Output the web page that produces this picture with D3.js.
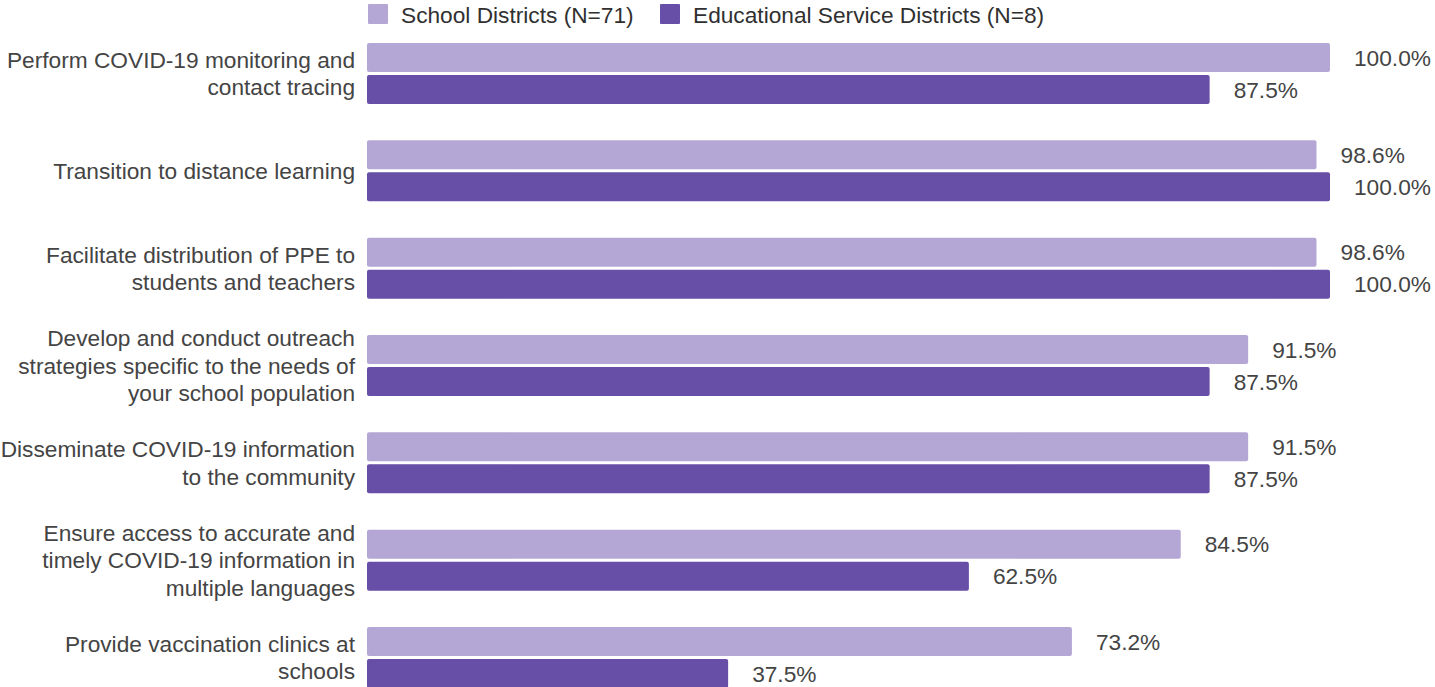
<!DOCTYPE html>
<html>
<head>
<meta charset="utf-8">
<script src="https://cdn.jsdelivr.net/npm/d3@7/dist/d3.min.js"></script>
<style>
  html, body { margin: 0; padding: 0; background: #fff; }
  svg { display: block; font-family: "Liberation Sans", Arial, sans-serif; }
</style>
</head>
<body>
<svg id="chart" width="1435" height="687"></svg>
<script>
// Share of districts reporting each COVID-19 activity
const categories = [
  ["Perform COVID-19 monitoring and", "contact tracing"],
  ["Transition to distance learning"],
  ["Facilitate distribution of PPE to", "students and teachers"],
  ["Develop and conduct outreach", "strategies specific to the needs of", "your school population"],
  ["Disseminate COVID-19 information", "to the community"],
  ["Ensure access to accurate and", "timely COVID-19 information in", "multiple languages"],
  ["Provide vaccination clinics at", "schools"]
];
const seriesNames = ["School Districts (N=71)", "Educational Service Districts (N=8)"];
const schoolDistricts = [100.0, 98.6, 98.6, 91.5, 91.5, 84.5, 73.2];
const serviceDistricts = [87.5, 100.0, 100.0, 87.5, 87.5, 62.5, 37.5];
const colors = ["#b4a7d6", "#674ea7"];
const textColor = "#444444";
const legendColor = "#303030";
const fontSize = 22.7;

const svg = d3.select("#chart");
const x = d3.scaleLinear().domain([0, 100]).range([367, 1330]);

const plotTop = 43, groupStep = 97.33;
const y = d3.scaleBand()
  .domain(d3.range(categories.length))
  .range([plotTop, plotTop + groupStep * categories.length]);
const barH = 29, barGap = 3;
const sub = d3.scaleOrdinal().domain([0, 1]).range([0, barH + barGap]);

const series = [schoolDistricts, serviceDistricts];

// bars and value labels
series.forEach((vals, si) => {
  const g = svg.append("g");
  g.selectAll("rect").data(vals).join("rect")
    .attr("x", x(0))
    .attr("y", (d, i) => y(i) + sub(si))
    .attr("width", d => x(d) - x(0))
    .attr("height", barH)
    .attr("rx", 2).attr("ry", 2)
    .attr("fill", colors[si]);

  g.selectAll("text").data(vals).join("text")
    .attr("x", d => x(d) + 24)
    .attr("y", (d, i) => y(i) + sub(si) + barH / 2)
    .attr("dy", "0.36em")
    .attr("font-size", fontSize)
    .attr("fill", textColor)
    .text(d => d.toFixed(1) + "%");
});

// category labels, right-aligned against the bars
const lineH = 27.3;
const labels = svg.append("g");
categories.forEach((lines, i) => {
  const cy = y(i) + barH + barGap / 2;
  const t = labels.append("text")
    .attr("text-anchor", "end")
    .attr("font-size", fontSize)
    .attr("fill", textColor);
  lines.forEach((ln, j) => {
    t.append("tspan")
      .attr("x", 355)
      .attr("y", cy + (j - (lines.length - 1) / 2) * lineH)
      .attr("dy", "0.36em")
      .text(ln);
  });
});

// legend
const legendX = [368, 660];
const legend = svg.append("g");
seriesNames.forEach((name, i) => {
  legend.append("rect")
    .attr("x", legendX[i]).attr("y", 4)
    .attr("width", 20).attr("height", 20)
    .attr("rx", 1)
    .attr("fill", colors[i]);
  legend.append("text")
    .attr("x", legendX[i] + 33)
    .attr("y", 14.5)
    .attr("dy", "0.36em")
    .attr("font-size", fontSize)
    .attr("fill", legendColor)
    .text(name);
});
</script>
</body>
</html>
